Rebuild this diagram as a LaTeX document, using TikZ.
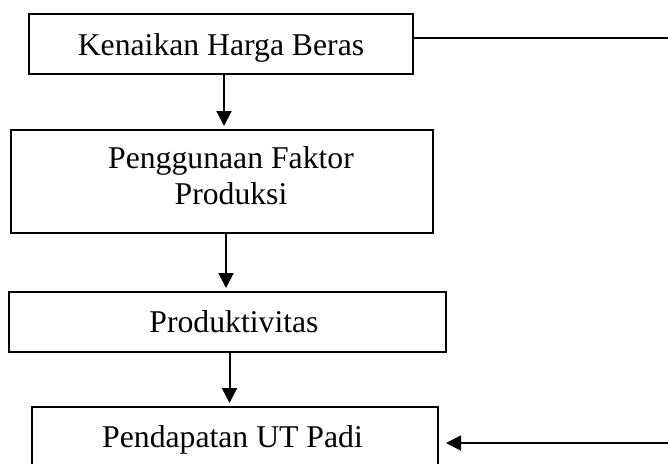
\documentclass[tikz,border=0pt]{standalone}
\usepackage{fontspec}
\setmainfont{Liberation Serif}
\usetikzlibrary{arrows.meta, positioning, calc}

\begin{document}
\begin{tikzpicture}[
    x=0.5pt, y=-0.5pt,
    box/.style={rectangle, draw, line width=1pt, inner sep=0pt},
    txt/.style={font=\fontsize{15.85}{18}\selectfont, anchor=base, inner sep=0pt},
    link/.style={line width=1pt, -{Triangle[length=7.5pt, width=7.5pt]}, shorten >=1.5pt}
]
\useasboundingbox (0,0) rectangle (668,463);

% Boxes
\node[box, minimum width=192pt, minimum height=30pt] (harga) at (221,44) {};
\node[box, minimum width=211pt, minimum height=51.5pt] (faktor) at (222,181.5) {};
\node[box, minimum width=218.5pt, minimum height=30pt] (produk) at (227.5,322) {};
\node[box, minimum width=203pt, minimum height=30pt] (pendapatan) at (235,437) {};

% Texts
\node[txt] (t-harga) at (221,55) {Kenaikan Harga Beras};
\node[txt, anchor=center, align=center] (t-faktor) at (231,176) {Penggunaan Faktor\\Produksi};
\node[txt] (t-produk) at (234,332) {Produktivitas};
\node[txt] (t-pendapatan) at (232.5,447) {Pendapatan UT Padi};

% Right side
\coordinate (kanan-atas) at (668,38);
\coordinate (kanan-bawah) at (668,443);
\draw[line width=1pt] ([yshift=3pt]harga.east) -- (kanan-atas);
\draw[link, shorten >=3.5pt] (kanan-bawah) -- (kanan-bawah -| pendapatan.east);

% Down arrows
\draw[link] ([xshift=1.5pt]harga.south) -- ([xshift=1.5pt]harga.south |- faktor.north);
\draw[link] ([xshift=2pt]faktor.south) -- ([xshift=2pt]faktor.south |- produk.north);
\draw[link] ([xshift=1pt]produk.south) -- ([xshift=1pt]produk.south |- pendapatan.north);

\end{tikzpicture}
\end{document}
